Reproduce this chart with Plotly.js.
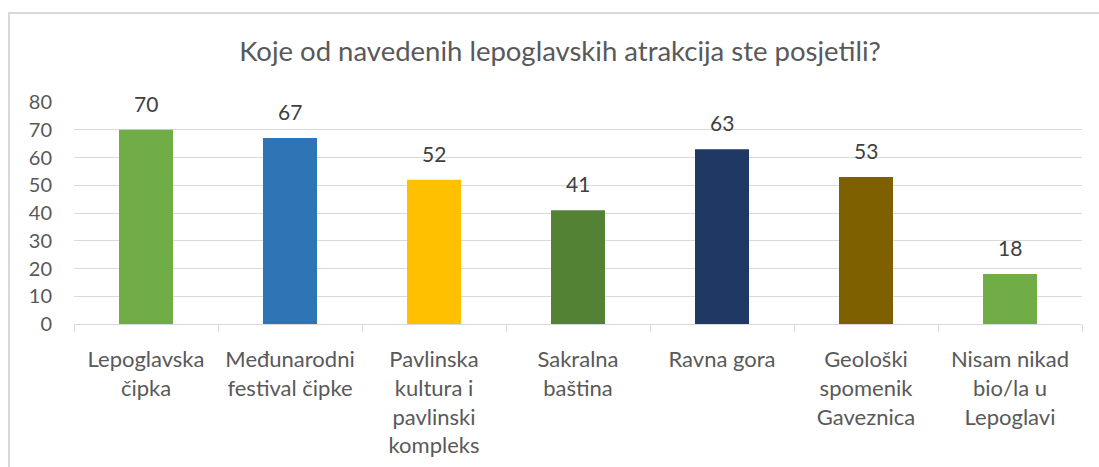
<!DOCTYPE html>
<html>
<head>
<meta charset="utf-8">
<script src="https://cdn.plot.ly/plotly-3.0.1.min.js"></script>
<style>
  html, body { margin: 0; padding: 0; background: #fff; }
  #chart { width: 1099px; height: 467px; }
</style>
</head>
<body>
<div id="chart"></div>
<script>
const categories = [
  "Lepoglavska<br>čipka",
  "Međunarodni<br>festival čipke",
  "Pavlinska<br>kultura i<br>pavlinski<br>kompleks",
  "Sakralna<br>baština",
  "Ravna gora",
  "Geološki<br>spomenik<br>Gaveznica",
  "Nisam nikad<br>bio/la u<br>Lepoglavi"
];
const values = [70, 67, 52, 41, 63, 53, 18];
const barColors = ["#70AD47", "#2E75B6", "#FFC000", "#548235", "#203864", "#7F6000", "#70AD47"];
const chartTitle = "Koje od navedenih lepoglavskih atrakcija ste posjetili?";

const FONT = "Lato, 'Open Sans', sans-serif";

const trace = {
  type: "bar",
  x: categories,
  y: values,
  marker: { color: barColors, line: { width: 0 } },
  hoverinfo: "skip"
};

const annotations = categories.map((c, i) => ({
  x: c, y: values[i], xref: "x", yref: "y",
  text: String(values[i]),
  showarrow: false,
  yanchor: "bottom",
  yshift: 12,
  font: { family: FONT, size: 21, color: "#404040" }
}));

const layout = {
  width: 1099, height: 467,
  margin: { l: 74, r: 17, t: 102, b: 143, pad: 0 },
  paper_bgcolor: "#ffffff",
  plot_bgcolor: "#ffffff",
  showlegend: false,
  bargap: 0.625,
  title: {
    text: chartTitle,
    font: { family: FONT, size: 27.5, color: "#595959" },
    x: 560 / 1099, xref: "container", xanchor: "center",
    y: 1 - 51 / 467, yref: "container", yanchor: "middle"
  },
  xaxis: {
    type: "category",
    showgrid: false,
    showline: true, linecolor: "#d9d9d9", linewidth: 1,
    ticks: "outside", tickson: "boundaries", ticklen: 7, tickcolor: "#d9d9d9", tickwidth: 1,
    tickfont: { family: FONT, size: 22, color: "#595959" },
    tickangle: 0,
    ticklabelstandoff: 16,
    fixedrange: true
  },
  yaxis: {
    range: [0, 80], dtick: 10, tick0: 0,
    showgrid: true, gridcolor: "#d9d9d9", gridwidth: 1,
    zeroline: false, showline: false,
    ticks: "",
    tickfont: { family: FONT, size: 20, color: "#595959" },
    ticklabelstandoff: 21,
    fixedrange: true
  },
  annotations: annotations,
  shapes: [{
    type: "rect", xref: "paper", yref: "paper",
    x0: (9 - 74) / 1008, x1: (1110 - 74) / 1008,
    y0: (324 - 480) / 222, y1: (324 - 13) / 222,
    line: { color: "#d9d9d9", width: 2 },
    fillcolor: "rgba(0,0,0,0)",
    layer: "below"
  }]
};

Plotly.newPlot("chart", [trace], layout, { displayModeBar: false, staticPlot: true });
</script>
</body>
</html>
